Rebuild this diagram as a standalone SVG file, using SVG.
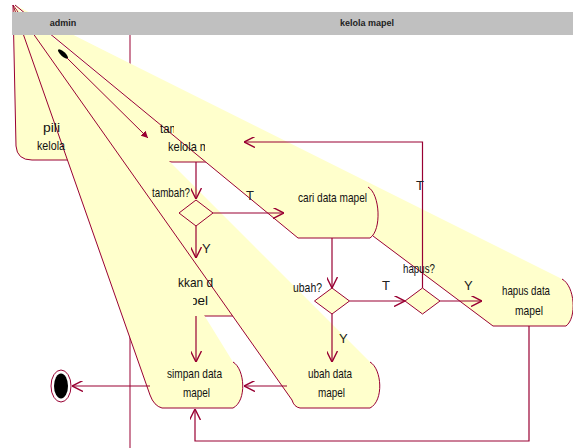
<svg xmlns="http://www.w3.org/2000/svg" width="573" height="448" viewBox="0 0 573 448">
<defs>
<style>
.act{fill:#ffffcc;stroke:none}
.out{fill:none;stroke:#990033;stroke-width:1}
.c{fill:none;stroke:#990033;stroke-width:1}
.ca{fill:none;stroke:#990033;stroke-width:1.2;marker-end:url(#open)}
.dec{fill:#ffffcc;stroke:#990033;stroke-width:1}
.t{font-family:"Liberation Sans",Arial,sans-serif;font-size:13px;fill:#111}
.g{font-family:"Liberation Sans",Arial,sans-serif;font-size:13px;fill:#222}
.hdr{font-family:"Liberation Sans",Arial,sans-serif;font-size:9px;font-weight:bold;fill:#222;text-anchor:middle}
</style>
<marker id="open" viewBox="0 0 10 10" refX="10" refY="5" markerWidth="11" markerHeight="11" markerUnits="userSpaceOnUse" orient="auto"><path d="M0,0 L10,5 L0,10" fill="none" stroke="#990033" stroke-width="1.3"/></marker>
<marker id="solid" viewBox="0 0 10 10" refX="10" refY="5" markerWidth="7" markerHeight="7" markerUnits="userSpaceOnUse" orient="auto"><path d="M0,0 L10,5 L0,10 Z" fill="#990033"/></marker>
<clipPath id="clipTam"><rect x="150" y="110" width="24" height="30"/></clipPath>
<clipPath id="clipKel"><rect x="160" y="135" width="45" height="25"/></clipPath>
<clipPath id="clipPel"><rect x="193" y="290" width="40" height="25"/></clipPath>
</defs>
<rect width="573" height="448" fill="#ffffff"/>
<line x1="130" y1="35" x2="130" y2="448" stroke="#990033" stroke-width="1"/>

<g id="node-pilih">
<path class="act" d="M13,5 L120,100 L125,160 L32,160 Q17,160 16,146 Z"/>
<path class="out" d="M13,5 L16,146 Q17,160 32,160 L125,160"/>
</g>
<g id="node-tampilkan">
<path class="act" d="M13,5 L206,162 L172,162 Q165,162 161,156 Z"/>
<path class="out" d="M161,156 Q165,162 172,162 L206,162"/>
</g>
<g id="node-hapus">
<path class="act" d="M13,5 L562,279 C575,286 577,318 566,326 L493,326 L373,236 Z"/>
<path class="out" d="M562,279 C575,286 577,318 566,326 L493,326 L373,236"/>
</g>
<g id="node-cari">
<path class="act" d="M15,5 L368,187 C380,194 382,230 370,238 L298,238 Z"/>
<path class="out" d="M368,187 C380,194 382,230 370,238 L298,238 L15,5"/>
</g>
<g id="node-masukkan">
<path class="act" d="M13,5 L240,262 L240,316 L203,316 Z"/>
<path class="out" d="M203,316 L240,316"/>
</g>
<g id="node-ubah">
<path class="act" d="M13,5 L370,362 C382,369 384,401 370,408 L300,408 Q294,407 292,400 Z"/>
<path class="out" d="M370,362 C382,369 384,401 370,408 L300,408 Q294,407 292,400 L13,5"/>
</g>
<g id="node-simpan">
<path class="act" d="M13,5 L233,362 C245,369 247,401 233,408 L162,408 Q154,406 150,395 Z"/>
<path class="out" d="M233,362 C245,369 247,401 233,408 L162,408 Q154,406 150,395 L13,5"/>
</g>

<g id="header">
<rect x="12" y="12" width="561" height="23" fill="#c0c0c0"/>
<text class="hdr" x="63" y="26">admin</text>
<text class="hdr" x="367" y="26">kelola mapel</text>
</g>

<g id="node-start">
<ellipse cx="63" cy="54" rx="6.5" ry="2.2" transform="rotate(42 63 54)" fill="#000"/>
</g>

<g id="node-tambah"><polygon class="dec" points="196,200 213,213 196,226 179,213"/></g>
<g id="node-ubah-decision"><polygon class="dec" points="332,288 349.5,301 332,314 314.5,301"/></g>
<g id="node-hapus-decision"><polygon class="dec" points="422.5,288 440,301 422.5,314 405,301"/></g>

<g id="node-end">
<ellipse cx="61" cy="386" rx="10" ry="16" fill="#fff" stroke="#990033" stroke-width="1"/>
<ellipse cx="61" cy="386" rx="7" ry="12.5" fill="#000"/>
</g>

<g id="connectors">
<path class="c" d="M67,58 L148,138" marker-end="url(#solid)"/>
<path class="ca" d="M196,162 L196,199"/>
<path class="ca" d="M213,213 L284,213"/>
<path class="ca" d="M196,226 L196,258"/>
<path class="ca" d="M196,316 L196,362"/>
<path class="ca" d="M150,386 L72,386"/>
<path class="ca" d="M332,238 L332,288"/>
<path class="ca" d="M332,314 L332,362"/>
<path class="ca" d="M287,386 L244,386"/>
<path class="ca" d="M349.5,301 L405,301"/>
<path class="ca" d="M440,301 L482,301"/>
<path class="ca" d="M422.5,288 L422.5,142 L244,142"/>
<path class="ca" d="M529,326 L529,441 L195,441 L195,409"/>
</g>

<g id="labels">
<text class="t" x="43" y="132" textLength="17" lengthAdjust="spacingAndGlyphs">pili</text>
<text class="t" x="37" y="150" textLength="28" lengthAdjust="spacingAndGlyphs">kelola</text>
<text class="t" x="160" y="133" textLength="19" lengthAdjust="spacingAndGlyphs" clip-path="url(#clipTam)">tam</text>
<text class="t" x="168" y="151" textLength="41" lengthAdjust="spacingAndGlyphs" clip-path="url(#clipKel)">kelola m</text>
<text class="t" x="178" y="287" textLength="35" lengthAdjust="spacingAndGlyphs">kkan d</text>
<text class="t" x="190" y="305" textLength="18" lengthAdjust="spacingAndGlyphs" clip-path="url(#clipPel)">pel</text>
<text class="t" x="298" y="202" textLength="69" lengthAdjust="spacingAndGlyphs">cari data mapel</text>
<text class="t" x="167" y="378" textLength="55" lengthAdjust="spacingAndGlyphs">simpan data</text>
<text class="t" x="183" y="397" textLength="27" lengthAdjust="spacingAndGlyphs">mapel</text>
<text class="t" x="308" y="378" textLength="44" lengthAdjust="spacingAndGlyphs">ubah data</text>
<text class="t" x="318" y="397" textLength="27" lengthAdjust="spacingAndGlyphs">mapel</text>
<text class="t" x="502" y="295" textLength="48" lengthAdjust="spacingAndGlyphs">hapus data</text>
<text class="t" x="515" y="315" textLength="28" lengthAdjust="spacingAndGlyphs">mapel</text>
<text class="t" x="152" y="197" textLength="38" lengthAdjust="spacingAndGlyphs">tambah?</text>
<text class="t" x="293" y="292" textLength="29" lengthAdjust="spacingAndGlyphs">ubah?</text>
<text class="t" x="403" y="273" textLength="32" lengthAdjust="spacingAndGlyphs">hapus?</text>
<text class="g" x="246" y="200">T</text>
<text class="g" x="202" y="253">Y</text>
<text class="g" x="382" y="290">T</text>
<text class="g" x="339" y="343">Y</text>
<text class="g" x="464" y="290">Y</text>
<text class="g" x="416" y="190">T</text>
</g>
</svg>
